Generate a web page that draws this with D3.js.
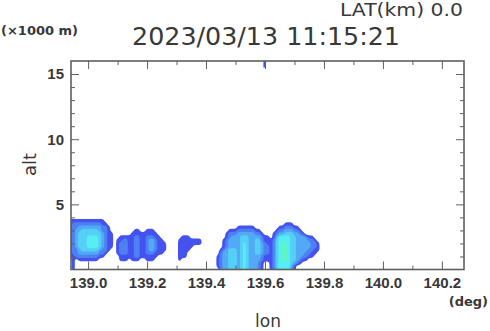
<!DOCTYPE html>
<html>
<head>
<meta charset="utf-8">
<script src="https://cdn.jsdelivr.net/npm/d3@7"></script>
<style>
  body { margin: 0; background: #fff; }
  svg { display: block; }
</style>
</head>
<body>
<svg id="chart" width="490" height="331"></svg>
<script>
// ---- data --------------------------------------------------------------
const titleText = "2023/03/13 11:15:21";
const latText = "LAT(km) 0.0";

const lonDomain = [138.942, 140.275];
const altDomain = [0, 16];
const lonMajorTicks = [139.0, 139.2, 139.4, 139.6, 139.8, 140.0, 140.2];
const lonMinorTicks = [139.1, 139.3, 139.5, 139.7, 139.9, 140.1];
const altMajorTicks = [5, 10, 15];
const altMinorTicks = [1, 2, 3, 4, 6, 7, 8, 9, 11, 12, 13, 14];

// echo level grid: one char per 0.01 deg of lon, one row per 0.25 km of alt
const gridLon0 = 138.94;
const gridLonStep = 0.01;
const gridAltTop = 4.25;
const gridAltStep = 0.25;
const gridCols = 90;
const gridRowsN = 18;

// each block: lon of first char, alt of first row, rows top -> down
const echoWest = [
  "111111111111000",
  "122222222221100",
  "122333333332210",
  "123344444432210",
  "123444444443211",
  "123444555543211",
  "123444555543211",
  "123444555543211",
  "123444555543211",
  "122344444432210",
  "122333333322100",
  "112222222211000",
  "010111111100000",
  "010000000000000",
  "010000000000000",
  "010000000000000"
];
const echoMid = [
  "00000011001110000",
  "00000111111111000",
  "01111122112221100",
  "11221122112332110",
  "12221122112332111",
  "12221122112332111",
  "12221122112332111",
  "12221122112221110",
  "01111122111111000",
  "01110111001110000"
];
const echoSmall = [
  "0011100000",
  "0111111110",
  "0111111110",
  "0111110000",
  "0111100000",
  "0111000000",
  "0111000000",
  "0100000000"
];
const echoTwin = [
  "00000000000000000000000111000000000",
  "00000001111110000000011222110000000",
  "00001112222221100000122333221000000",
  "00012223333332210001233444332100000",
  "00012333444333321101355554433321100",
  "00123333444334421112455554433332210",
  "00123333454334432112456654433333221",
  "00123333454334432212456654433333221",
  "01234443454334432212456654433332211",
  "02334443454334432212456654433322110",
  "12334443454333321112456654433221100",
  "12334443454333321112456654432110000",
  "12334443454333210012455554321000000",
  "12334443454333210012455553100000000",
  "02334443454333210012455553100000000"
];
const echoBlocks = [
  { lon: 138.94, alt: 3.75, rows: echoWest },
  { lon: 139.10, alt: 3.00, rows: echoMid },
  { lon: 139.30, alt: 2.50, rows: echoSmall },
  { lon: 139.44, alt: 3.50, rows: echoTwin }
];
// isolated echo near the top of the section: [lon, alt bottom, alt top]
const specks = [[139.598, 15.5, 16.0]];

const levelThresholds = [0.5, 1.5, 2.5, 3.5, 4.5, 5.5];
const levelColors = ["#4452f0", "#4d80f3", "#52a9f5", "#55cff5", "#55eef2", "#5ff5c4"];

// ---- layout ------------------------------------------------------------
const plot = { left: 71, right: 464, top: 61, bottom: 269.5 };
const axisColor = "#5f5f5f";
const textColor = "#383838";

const svg = d3.select("#chart");
const x = d3.scaleLinear().domain(lonDomain).range([plot.left, plot.right]);
const y = d3.scaleLinear().domain(altDomain).range([plot.bottom, plot.top]);

svg.append("defs").append("clipPath").attr("id", "plotClip")
  .append("rect")
  .attr("x", plot.left).attr("y", plot.top)
  .attr("width", plot.right - plot.left).attr("height", plot.bottom - plot.top);

// build the grid
const values = new Array(gridCols * gridRowsN).fill(0);
echoBlocks.forEach(b => {
  const c0 = Math.round((b.lon - gridLon0) / gridLonStep);
  const r0 = Math.round((gridAltTop - b.alt) / gridAltStep);
  b.rows.forEach((row, r) => {
    for (let i = 0; i < row.length; i++) {
      values[(r0 + r) * gridCols + c0 + i] = +row[i];
    }
  });
});

const contours = d3.contours()
  .size([gridCols, gridRowsN])
  .thresholds(levelThresholds)(values);

// grid coords -> screen, then round the rings a little
const gx = px => x(gridLon0 + (px - 0.5) * gridLonStep);
const gy = py => y(gridAltTop - (py - 0.5) * gridAltStep);
const ringLine = d3.line().curve(d3.curveBasisClosed);

function contourPath(c) {
  let d = "";
  c.coordinates.forEach(poly => {
    poly.forEach(ring => {
      const pts = ring.slice(0, -1).map(p => [gx(p[0]), gy(p[1])]);
      d += ringLine(pts);
    });
  });
  return d;
}

const echoG = svg.append("g").attr("clip-path", "url(#plotClip)");
echoG.selectAll("path")
  .data(contours)
  .join("path")
  .attr("d", contourPath)
  .attr("fill-rule", "evenodd")
  .attr("fill", (d, i) => levelColors[i]);

echoG.selectAll("rect.speck")
  .data(specks)
  .join("rect")
  .attr("class", "speck")
  .attr("x", d => x(d[0]) - 1)
  .attr("width", 2)
  .attr("y", d => y(d[2]))
  .attr("height", d => y(d[1]) - y(d[2]))
  .attr("fill", levelColors[0]);

// ---- axes --------------------------------------------------------------
function styleAxis(g) {
  g.select(".domain").remove();
  g.selectAll(".tick line").attr("stroke", axisColor).attr("stroke-width", 1);
  g.selectAll(".tick text")
    .attr("fill", textColor)
    .style("font-family", "'Liberation Sans', Arial, sans-serif")
    .style("font-size", "15px")
    .style("font-weight", "bold");
}

svg.append("g").attr("transform", `translate(0,${plot.bottom})`)
  .call(d3.axisBottom(x).tickValues(lonMajorTicks).tickSize(-8).tickPadding(8)
    .tickFormat(d3.format(".1f")))
  .call(styleAxis);
svg.append("g").attr("transform", `translate(0,${plot.bottom})`)
  .call(d3.axisBottom(x).tickValues(lonMinorTicks).tickSize(-4).tickFormat(""))
  .call(styleAxis);
svg.append("g").attr("transform", `translate(0,${plot.top})`)
  .call(d3.axisTop(x).tickValues(lonMajorTicks).tickSize(-8).tickFormat(""))
  .call(styleAxis);
svg.append("g").attr("transform", `translate(0,${plot.top})`)
  .call(d3.axisTop(x).tickValues(lonMinorTicks).tickSize(-4).tickFormat(""))
  .call(styleAxis);

svg.append("g").attr("transform", `translate(${plot.left},0)`)
  .call(d3.axisLeft(y).tickValues(altMajorTicks).tickSize(-8).tickPadding(7)
    .tickFormat(d3.format("d")))
  .call(styleAxis);
svg.append("g").attr("transform", `translate(${plot.left},0)`)
  .call(d3.axisLeft(y).tickValues(altMinorTicks).tickSize(-4).tickFormat(""))
  .call(styleAxis);
svg.append("g").attr("transform", `translate(${plot.right},0)`)
  .call(d3.axisRight(y).tickValues(altMajorTicks).tickSize(-8).tickFormat(""))
  .call(styleAxis);
svg.append("g").attr("transform", `translate(${plot.right},0)`)
  .call(d3.axisRight(y).tickValues(altMinorTicks).tickSize(-4).tickFormat(""))
  .call(styleAxis);

svg.append("rect")
  .attr("x", plot.left).attr("y", plot.top)
  .attr("width", plot.right - plot.left).attr("height", plot.bottom - plot.top)
  .attr("fill", "none").attr("stroke", axisColor).attr("stroke-width", 1.6);

// ---- texts -------------------------------------------------------------
const dejavu = "'DejaVu Sans', Verdana, sans-serif";

svg.append("text")
  .attr("x", 340).attr("y", 16)
  .attr("textLength", 123).attr("lengthAdjust", "spacingAndGlyphs")
  .attr("fill", textColor)
  .style("font-family", dejavu).style("font-size", "17px")
  .text(latText);

svg.append("text")
  .attr("x", 132).attr("y", 45)
  .attr("textLength", 268).attr("lengthAdjust", "spacingAndGlyphs")
  .attr("fill", textColor)
  .style("font-family", dejavu).style("font-size", "24px")
  .text(titleText);

svg.append("text")
  .attr("x", 1).attr("y", 35)
  .attr("fill", textColor)
  .style("font-family", dejavu).style("font-size", "13px").style("font-weight", "bold")
  .text("(×1000 m)");

svg.append("text")
  .attr("transform", "translate(36,164.5) rotate(-90)")
  .attr("text-anchor", "middle")
  .attr("fill", textColor)
  .style("font-family", dejavu).style("font-size", "18px")
  .text("alt");

svg.append("text")
  .attr("x", 268).attr("y", 327)
  .attr("text-anchor", "middle")
  .attr("fill", textColor)
  .style("font-family", dejavu).style("font-size", "17px")
  .text("lon");

svg.append("text")
  .attr("x", 488).attr("y", 306)
  .attr("text-anchor", "end")
  .attr("fill", textColor)
  .style("font-family", dejavu).style("font-size", "13px").style("font-weight", "bold")
  .text("(deg)");
</script>
</body>
</html>
